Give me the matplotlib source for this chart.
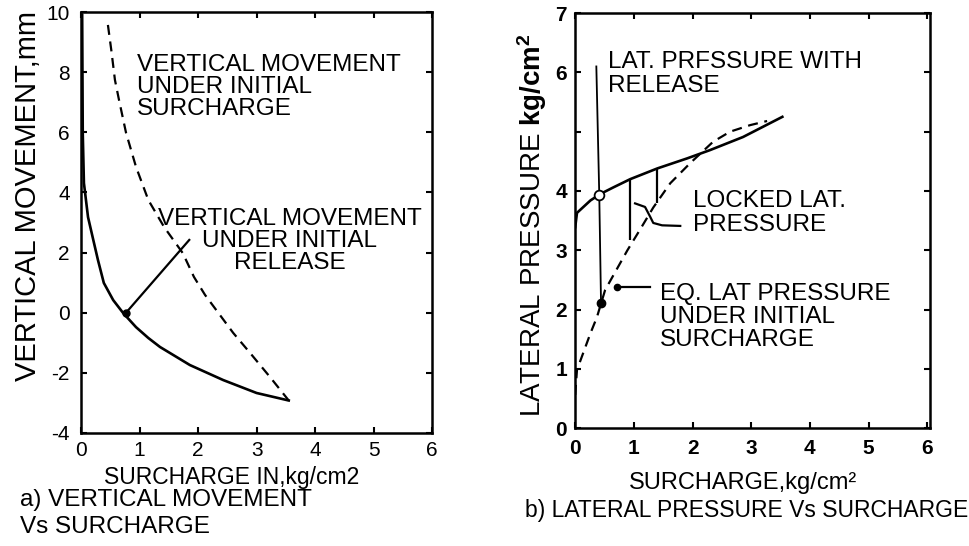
import matplotlib
matplotlib.use('Agg')
import matplotlib.pyplot as plt

plt.rcParams['font.family'] = ['Liberation Sans', 'DejaVu Sans']
plt.rcParams['mathtext.fontset'] = 'custom'
plt.rcParams['mathtext.rm'] = 'Liberation Sans'
plt.rcParams['mathtext.bf'] = 'Liberation Sans:bold'
plt.rcParams['axes.unicode_minus'] = False

# a) vertical movement vs surcharge
surch_solid = [0.02, 0.03, 0.05, 0.12, 0.21, 0.29, 0.39, 0.55, 0.72, 0.94, 1.15, 1.35, 1.86, 2.43, 3.0, 3.55]
move_solid = [9.9, 5.98, 4.31, 3.18, 2.42, 1.75, 0.99, 0.42, -0.01, -0.48, -0.84, -1.14, -1.74, -2.24, -2.67, -2.92]
surch_dash = [0.46, 0.52, 0.58, 0.65, 0.77, 0.94, 1.15, 1.42, 1.74, 1.93, 2.12, 2.6, 2.89, 3.23, 3.55]
move_dash = [9.57, 8.7, 7.74, 7.07, 5.98, 4.85, 3.75, 2.85, 1.98, 1.19, 0.59, -0.67, -1.34, -2.14, -2.92]
release_ptr_x = [1.85, 0.77]
release_ptr_y = [2.42, 0.0]
left_xticks = [0, 1, 2, 3, 4, 5, 6]
left_yticks = [-4, -2, 0, 2, 4, 6, 8, 10]

# b) lateral pressure vs surcharge
lat_solid_x = [0, 0.03, 0.26, 0.43, 0.65, 0.94, 1.4, 1.91, 2.3, 2.86, 3.53]
lat_solid_y = [3.39, 3.63, 3.84, 3.95, 4.06, 4.2, 4.38, 4.55, 4.69, 4.91, 5.25]
lat_dash_x = [0, 0.03, 0.26, 0.37, 0.51, 0.89, 1.1, 1.33, 1.62, 1.96, 2.35, 2.64, 2.98, 3.27]
lat_dash_y = [0.56, 0.98, 1.6, 1.87, 2.33, 3.0, 3.34, 3.72, 4.13, 4.47, 4.83, 5.0, 5.11, 5.18]
rel_line_x = [0.36, 0.41, 0.44]
rel_line_y = [6.1, 3.93, 2.11]
locked_x = [0.94, 1.4]
locked_top = [4.2, 4.38]
locked_bot = [3.18, 3.8]
curl_x = [1.02, 1.19, 1.28, 1.33, 1.48, 1.79]
curl_y = [3.79, 3.73, 3.56, 3.46, 3.42, 3.41]
eq_ptr_x = [1.28, 0.72]
eq_ptr_y = [2.38, 2.38]
right_xticks = [0, 1, 2, 3, 4, 5, 6]
right_yticks = [0, 1, 2, 3, 4, 5, 6, 7]
right_ylabels = ['0', '1', '2', '3', '4', '', '6', '7']

fig = plt.figure(figsize=(9.7, 5.46), dpi=100)
ax1 = fig.add_axes([0.0835, 0.207, 0.362, 0.771])
ax2 = fig.add_axes([0.593, 0.216, 0.366, 0.760])

for ax in (ax1, ax2):
    for s in ax.spines.values():
        s.set_linewidth(1.8)
    ax.tick_params(direction='in', top=True, right=True, length=4.5, width=1.5, labelsize=15)

# left panel
ax1.plot(surch_solid, move_solid, color='black', lw=1.9)
ax1.plot(surch_dash, move_dash, color='black', lw=1.6, linestyle=(0, (4.5, 3)))
ax1.plot(release_ptr_x, release_ptr_y, color='black', lw=1.6)
ax1.plot(release_ptr_x[-1], release_ptr_y[-1], 'o', color='black', ms=5)
ax1.set_xlim(0, 6)
ax1.set_ylim(-4, 10)
ax1.set_xticks(left_xticks)
ax1.set_yticks(left_yticks)
ax1.tick_params(axis='y', pad=8)
ax1.tick_params(axis='x', pad=6)
ax1.text(0.96, 7.5, 'VERTICAL MOVEMENT\nUNDER INITIAL\nSURCHARGE', fontsize=17.5,
         ha='left', va='center', linespacing=1.0)
ax1.text(3.57, 2.38, 'VERTICAL MOVEMENT\nUNDER INITIAL\nRELEASE', fontsize=17.5,
         ha='center', va='center', linespacing=1.0)
ax1.set_xlabel('SURCHARGE IN,kg/cm2', fontsize=16.5)
ax1.xaxis.set_label_coords(0.43, -0.105)
ax1.xaxis.label.set_va('center')
ax1.set_ylabel('VERTICAL MOVEMENT,mm', fontsize=21)
ax1.yaxis.set_label_coords(-0.151, 0.563)
ax1.yaxis.label.set_va('center')

# right panel
ax2.plot(lat_solid_x, lat_solid_y, color='black', lw=1.9)
ax2.plot(lat_dash_x, lat_dash_y, color='black', lw=1.6, linestyle=(0, (4.5, 3)))
ax2.plot(rel_line_x, rel_line_y, color='black', lw=1.3)
ax2.plot(rel_line_x[1], rel_line_y[1], 'o', mfc='white', mec='black', ms=7, mew=1.3)
ax2.plot(rel_line_x[-1], rel_line_y[-1], 'o', color='black', ms=6)
ax2.vlines(locked_x, locked_bot, locked_top, color='black', lw=1.6)
ax2.plot(curl_x, curl_y, color='black', lw=1.6)
ax2.plot(eq_ptr_x, eq_ptr_y, color='black', lw=1.6)
ax2.plot(eq_ptr_x[-1], eq_ptr_y[-1], 'o', color='black', ms=4.5)
ax2.set_xlim(0, 6.05)
ax2.set_ylim(0, 7)
ax2.set_xticks(right_xticks)
ax2.set_yticks(right_yticks)
ax2.set_yticklabels(right_ylabels)
ax2.tick_params(axis='y', pad=6)
ax2.tick_params(axis='x', pad=8)
for lab in ax2.get_yticklabels() + ax2.get_xticklabels():
    lab.set_fontweight('bold')
ax2.text(0.56, 5.97, 'LAT. PRFSSURE WITH\nRELEASE', fontsize=17.5,
         ha='left', va='center', linespacing=1.1)
ax2.text(2.01, 3.63, 'LOCKED LAT.\nPRESSURE', fontsize=17.5,
         ha='left', va='center', linespacing=1.15)
ax2.text(1.45, 1.87, 'EQ. LAT PRESSURE\nUNDER INITIAL\nSURCHARGE', fontsize=17.5,
         ha='left', va='center', linespacing=1.05)
ax2.set_xlabel('SURCHARGE,kg/cm²', fontsize=17)
ax2.xaxis.set_label_coords(0.473, -0.1325)
ax2.xaxis.label.set_va('center')
ax2.set_ylabel(r'LATERAL PRESSURE $\mathbf{kg/cm^2}$', fontsize=20)
ax2.yaxis.set_label_coords(-0.121, 0.49)
ax2.yaxis.label.set_va('center')

fig.text(20 / 970, 1 - 500 / 546, 'a) VERTICAL MOVEMENT', fontsize=17.5, ha='left', va='center')
fig.text(20 / 970, 1 - 527 / 546, 'Vs SURCHARGE', fontsize=17.5, ha='left', va='center')
fig.text(525 / 970, 1 - 510 / 546, 'b) LATERAL PRESSURE Vs SURCHARGE', fontsize=16.5, ha='left', va='center')

fig.savefig('out.png', dpi=100)
